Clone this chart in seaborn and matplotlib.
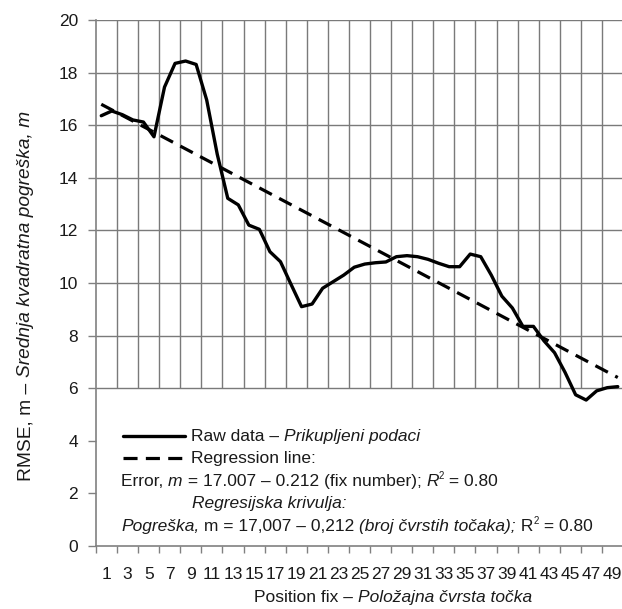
import numpy as np
import matplotlib
matplotlib.use("Agg")
import matplotlib.pyplot as plt
import seaborn as sns

# RMSE per position fix
fix_number = list(range(1, 51))
rmse_m = [16.36, 16.54, 16.40, 16.20, 16.12, 15.56, 17.45, 18.35, 18.44, 18.31,
          16.96, 14.90, 13.22, 12.97, 12.20, 12.04, 11.19, 10.81, 9.95, 9.10,
          9.20, 9.80, 10.05, 10.30, 10.60, 10.72, 10.77, 10.80, 11.00, 11.04,
          11.00, 10.90, 10.75, 10.62, 10.62, 11.10, 11.00, 10.30, 9.50, 9.05,
          8.35, 8.35, 7.80, 7.35, 6.60, 5.75, 5.55, 5.90, 6.02, 6.06]

# regression stated on the chart: m = 17.007 - 0.212 * fix
reg_intercept = 17.007
reg_slope = -0.212
reg_x = [1, 50]

x_tick_labels = [str(i) for i in range(1, 50, 2)]
y_ticks = list(range(0, 21, 2))

sns.set_style("white")
plt.rcParams['font.family'] = ['Liberation Sans', 'DejaVu Sans']

TXT = '#1a1a1a'
GRID = '#7a7a7a'
FS = 12.5


def rich_text(ax, x, y, parts, rotation=0, transform=None, **kw):
    """Write text pieces one after the other; parts = (text, style, size, rise)."""
    if transform is None:
        transform = ax.transData
    prev = None
    for text, style, size, rise in parts:
        if prev is None:
            if rotation:
                prev = ax.text(x, y, text, fontstyle=style, fontsize=size,
                               rotation=90, ha='center', va='bottom',
                               transform=transform, clip_on=False, **kw)
            else:
                prev = ax.text(x, y, text, fontstyle=style, fontsize=size,
                               ha='left', va='baseline', transform=transform,
                               clip_on=False, **kw)
        elif rotation:
            prev = ax.annotate(text, xy=(0, 1), xycoords=prev, xytext=(-rise, 0),
                               textcoords='offset points', fontstyle=style,
                               fontsize=size, rotation=90, ha='left',
                               va='bottom', **kw)
        else:
            prev = ax.annotate(text, xy=(1, 0), xycoords=prev, xytext=(0, rise),
                               textcoords='offset points', fontstyle=style,
                               fontsize=size, ha='left', va='bottom', **kw)
    return prev


fig = plt.figure(figsize=(6.22, 6.09), dpi=100)
ax = fig.add_axes([96 / 622, 1 - 546 / 609, 1 - 96 / 622, (546 - 20) / 609])

ax.set_xlim(0.5, 50.4)
ax.set_ylim(0, 20)

# grid: vertical lines every two fixes (only above the legend), horizontal every 2 m
bounds = np.arange(2.5, 50, 2)
ax.vlines(bounds, 6, 20, color=GRID, lw=1.0, zorder=1)
ax.hlines(np.arange(6, 21, 2), 0.5, 50.4, color=GRID, lw=1.0, zorder=1)

sns.lineplot(x=fix_number, y=rmse_m, color='black', lw=2.4, ax=ax, zorder=3)
reg_y = [reg_intercept + reg_slope * v for v in reg_x]
sns.lineplot(x=reg_x, y=reg_y, color='black', lw=2.3, linestyle=(0, (4.4, 2.6)),
             ax=ax, zorder=3)

for s in ['top', 'right']:
    ax.spines[s].set_visible(False)
for s in ['left', 'bottom']:
    ax.spines[s].set_color('#808080')
    ax.spines[s].set_linewidth(1.2)

ax.set_yticks(y_ticks)
ax.set_yticklabels([str(v) for v in y_ticks])
ax.tick_params(axis='y', direction='out', length=6, width=1, color='#808080',
               pad=7, labelsize=FS, labelcolor=TXT, left=True)

ax.set_xticks(np.arange(0.5, 50, 2))
ax.set_xticklabels([])
ax.tick_params(axis='x', which='major', direction='out', length=5, width=1,
               color='#808080', bottom=True)
ax.set_xticks(np.arange(1.5, 50, 2), minor=True)
ax.set_xticklabels(x_tick_labels, minor=True)
ax.tick_params(axis='x', which='minor', length=0, pad=15, labelsize=FS,
               labelcolor=TXT)

# axis titles (upright + italic parts)
rich_text(ax, 26 / 622, 1 - 481 / 609,
          [("RMSE, m – ", 'normal', 13.8, 0),
           ("Srednja kvadratna pogreška, m", 'italic', 13.8, 0)],
          rotation=90, transform=fig.transFigure, color=TXT)
rich_text(ax, 254 / 622, 1 - 602 / 609,
          [("Position fix – ", 'normal', FS, 0),
           ("Položajna čvrsta točka", 'italic', FS, 0)],
          transform=fig.transFigure, color=TXT)


# legend block drawn by hand (Excel style)
def px2data(px, py):
    return 0.5 + (px - 96) / 10.54, (546 - py) / 26.3


x0, y1 = px2data(123, 436)
x1, _ = px2data(185, 436)
ax.plot([x0, x1], [y1, y1], color='black', lw=2.4)
_, y2 = px2data(123, 458)
ax.plot([x0, x1], [y2, y2], color='black', lw=2.3, linestyle=(0, (4.4, 2.6)))

tx, b1 = px2data(191, 441)
rich_text(ax, tx, b1, [("Raw data – ", 'normal', FS, 0),
                       ("Prikupljeni podaci", 'italic', FS, 0)], color=TXT)
_, b2 = px2data(191, 463)
rich_text(ax, tx, b2, [("Regression line:", 'normal', FS, 0)], color=TXT)

lx, b3 = px2data(121, 486)
rich_text(ax, lx, b3, [("Error, ", 'normal', FS, 0),
                       ("m", 'italic', FS, 0),
                       (" = 17.007 – 0.212 (fix number); ", 'normal', FS, 0),
                       ("R", 'italic', FS, 0),
                       ("2", 'normal', 7, 5.5),
                       (" = 0.80", 'normal', FS, -5.5)], color=TXT)
ix, b4 = px2data(192, 508)
rich_text(ax, ix, b4, [("Regresijska krivulja:", 'italic', FS, 0)], color=TXT)
_, b5 = px2data(121, 531)
rich_text(ax, lx, b5, [("Pogreška,", 'italic', FS, 0),
                       (" m = 17,007 – 0,212 ", 'normal', FS, 0),
                       ("(broj čvrstih točaka);", 'italic', FS, 0),
                       (" R", 'normal', FS, 0),
                       ("2", 'normal', 7, 5.5),
                       (" = 0.80", 'normal', FS, -5.5)], color=TXT)

fig.savefig("out.png", dpi=100)
